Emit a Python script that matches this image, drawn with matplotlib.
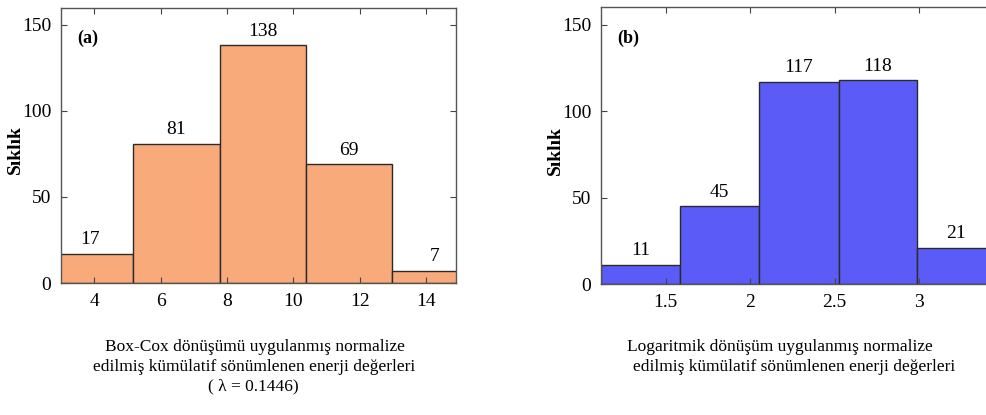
import matplotlib
matplotlib.use("Agg")
import matplotlib.pyplot as plt
import numpy as np

plt.rcParams['font.family'] = ['Liberation Serif', 'DejaVu Serif']

# Panel (a): Box-Cox transformed
edges_a = [2.58, 5.18, 7.78, 10.37, 12.96, 15.56]
counts_a = [17, 81, 138, 69, 7]
xticks_a = [4, 6, 8, 10, 12, 14]

# Panel (b): logarithmic transformed
edges_b = [1.117, 1.585, 2.055, 2.524, 2.988, 3.456]
counts_b = [11, 45, 117, 118, 21]
xticks_b = [1.5, 2, 2.5, 3]
xticklabels_b = ['1.5', '2', '2.5', '3']

yticks = [0, 50, 100, 150]

W, H = 987, 415
fig = plt.figure(figsize=(W / 100, H / 100), dpi=100)

def px_axes(l, r, t, b):
    return fig.add_axes([l / W, 1 - b / H, (r - l) / W, (b - t) / H])

ax1 = px_axes(61, 456, 7.5, 283)
ax2 = px_axes(601, 996, 7.5, 284)

def draw(ax, edges, counts, color, xlim, xticks, xticklabels, tag):
    edges = np.asarray(edges)
    widths = np.diff(edges)
    ax.bar(edges[:-1], counts, width=widths, align='edge', color=color,
           edgecolor='#2a2a2a', linewidth=1.0)
    for l, w, c in zip(edges[:-1], widths, counts):
        cx = l + w / 2
        ax.annotate(str(c), (cx, c), xytext=(0, 4), textcoords='offset points',
                    ha='center', va='bottom', fontsize=14)
    ax.set_xlim(*xlim)
    ax.set_ylim(0, 160)
    ax.set_xticks(xticks)
    ax.set_xticklabels(xticklabels, fontsize=14)
    ax.set_yticks(yticks)
    ax.set_yticklabels([str(v) for v in yticks], fontsize=14)
    ax.tick_params(direction='in', length=4, top=True, right=True, width=0.8,
                   color='#444444', pad=7)
    for s in ax.spines.values():
        s.set_color('#555555')
        s.set_linewidth(1.0)
    ax.set_ylabel('Sıklık', fontsize=14, fontweight='bold')
    ax.yaxis.set_label_coords(-0.094, 0.483)
    ax.text(0.04, 0.887, tag, transform=ax.transAxes, fontsize=13,
            fontweight='bold', va='center', ha='left')

draw(ax1, edges_a, counts_a, '#F9AA7B', (3, 14.9), xticks_a,
     [str(v) for v in xticks_a], '(a)')
draw(ax2, edges_b, counts_b, '#5B5BF7', (1.117, 3.456), xticks_b,
     xticklabels_b, '(b)')

def ftext(x, y, s):
    fig.text(x / W, 1 - y / H, s, ha='center', va='center', fontsize=12.5)

ftext(254.5, 347, 'Box-Cox dönüşümü uygulanmış normalize')
ftext(254, 367, 'edilmiş kümülatif sönümlenen enerji değerleri')
ftext(253, 386, '( λ = 0.1446)')
ftext(780, 347, 'Logaritmik dönüşüm uygulanmış normalize')
ftext(794, 367, 'edilmiş kümülatif sönümlenen enerji değerleri')

fig.savefig('out.png', dpi=100)
